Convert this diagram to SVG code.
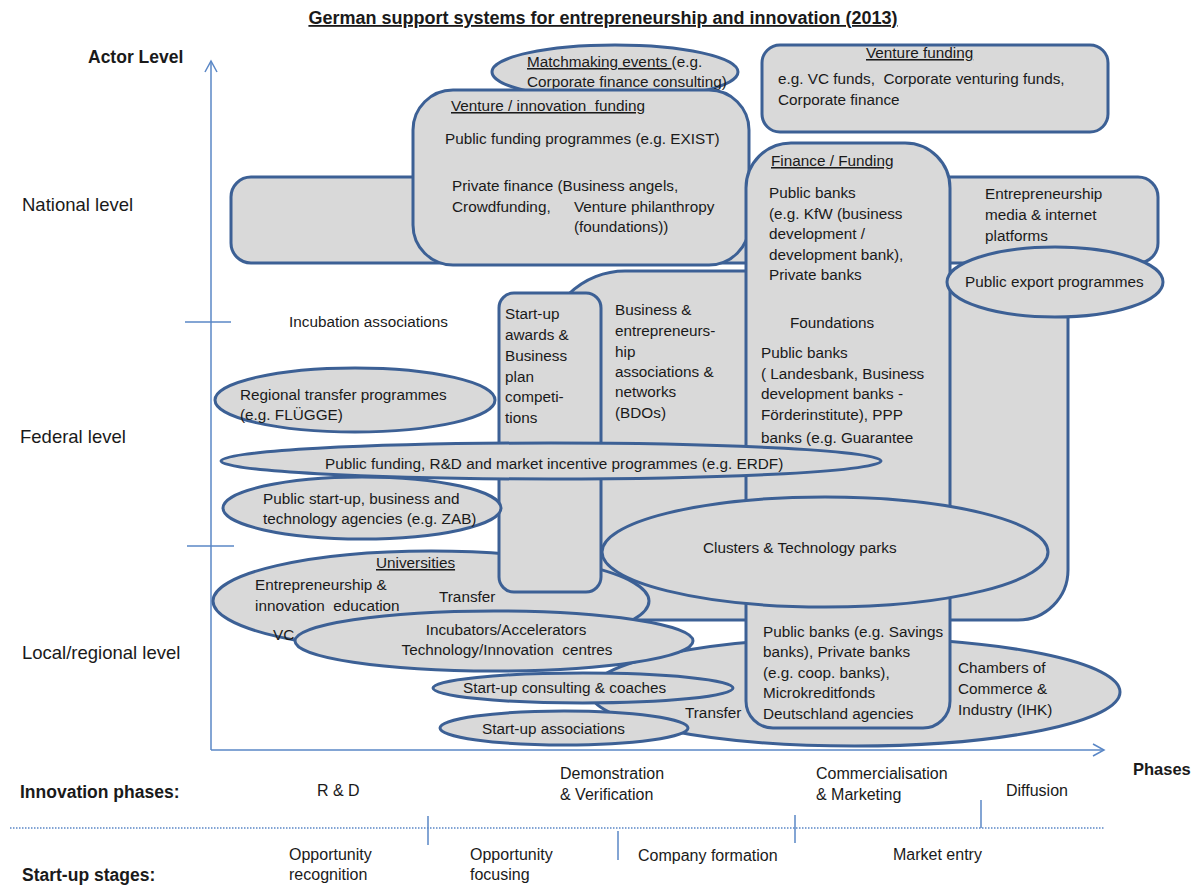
<svg xmlns="http://www.w3.org/2000/svg" width="1198" height="886" viewBox="0 0 1198 886">
  <defs>
    <style>
      .box { fill: #D9D9D9; stroke: #3C6095; stroke-width: 3; }
      .axis { fill: none; stroke: #5A87C6; stroke-width: 1.5; }
      .dots { fill: none; stroke: #5A87C6; stroke-width: 1.5; stroke-dasharray: 1.5 1.5; }
      text { font-family: "Liberation Sans", Arial, sans-serif; fill: #1A1A1A; white-space: pre; }
      .t { font-size: 15.3px; }
      .s { font-size: 16px; }
      .lvl { font-size: 18.5px; }
      .hd { font-size: 17.5px; font-weight: bold; }
      .ul { text-decoration: underline; }
    </style>
    <marker id="chev" viewBox="0 0 14 14" refX="12" refY="7" markerWidth="14" markerHeight="14" markerUnits="userSpaceOnUse" orient="auto">
      <path d="M1,1 L12,7 L1,13" fill="none" stroke="#5A87C6" stroke-width="1.5"/>
    </marker>
  </defs>

  <rect width="1198" height="886" fill="#FFFFFF"/>

  <!-- title -->
  <text x="603" y="24" text-anchor="middle" class="ul" style="font-size:18px;font-weight:bold">German support systems for entrepreneurship and innovation (2013)</text>

  <!-- axes, level ticks and phase scale -->
  <g id="axes">
    <line class="axis" x1="211" y1="750" x2="211" y2="61" marker-end="url(#chev)"/>
    <line class="axis" x1="211" y1="750" x2="1104" y2="750" marker-end="url(#chev)"/>
    <line class="axis" x1="185" y1="322" x2="231" y2="322"/>
    <line class="axis" x1="187" y1="546" x2="234" y2="546"/>
    <line class="dots" x1="10" y1="828" x2="1104" y2="828"/>
    <line class="axis" x1="428" y1="816" x2="428" y2="845"/>
    <line class="axis" x1="618" y1="831" x2="618" y2="860"/>
    <line class="axis" x1="795" y1="815" x2="795" y2="843"/>
    <line class="axis" x1="981" y1="800" x2="981" y2="828"/>
  </g>

  <!-- axis and scale labels -->
  <g id="labels">
    <text x="88" y="63" class="hd">Actor Level</text>
    <text x="22" y="211" class="lvl">National level</text>
    <text x="20" y="443" class="lvl">Federal level</text>
    <text x="22" y="659" class="lvl">Local/regional level</text>
    <text x="1133" y="775" class="hd" style="font-size:16.5px">Phases</text>
    <text x="20" y="798" class="hd">Innovation phases:</text>
    <text x="22" y="881" class="hd">Start-up stages:</text>
    <text x="317" y="796" class="s">R &amp; D</text>
    <text x="560" y="779" class="s">Demonstration</text>
    <text x="560" y="800" class="s">&amp; Verification</text>
    <text x="816" y="779" class="s">Commercialisation</text>
    <text x="816" y="800" class="s">&amp; Marketing</text>
    <text x="1006" y="796" class="s">Diffusion</text>
    <text x="289" y="860" class="s">Opportunity</text>
    <text x="289" y="880" class="s">recognition</text>
    <text x="470" y="860" class="s">Opportunity</text>
    <text x="470" y="880" class="s">focusing</text>
    <text x="638" y="861" class="s">Company formation</text>
    <text x="893" y="860" class="s">Market entry</text>
    <text x="289" y="327" class="t">Incubation associations</text>
  </g>

  <!-- national band with media platforms -->
  <g id="national-platforms">
    <rect class="box" x="231" y="177" width="927" height="86" rx="20"/>
    <text class="t" x="985" y="199">Entrepreneurship</text>
    <text class="t" x="985" y="220">media &amp; internet</text>
    <text class="t" x="985" y="241">platforms</text>
  </g>

  <g id="matchmaking">
    <ellipse class="box" cx="615" cy="72" rx="123" ry="27"/>
    <text class="t" x="527" y="67"><tspan class="ul">Matchmaking events </tspan>(e.g.</text>
    <text class="t" x="527" y="87">Corporate finance consulting)</text>
  </g>

  <g id="venture-innovation-funding">
    <rect class="box" x="413" y="90" width="336" height="175" rx="40"/>
    <text class="t ul" x="451" y="111">Venture / innovation  funding</text>
    <text class="t" x="445" y="144">Public funding programmes (e.g. EXIST)</text>
    <text class="t" x="452" y="191">Private finance (Business angels,</text>
    <text class="t" x="452" y="212">Crowdfunding,</text>
    <text class="t" x="574" y="212">Venture philanthropy</text>
    <text class="t" x="574" y="232">(foundations))</text>
  </g>

  <g id="venture-funding">
    <rect class="box" x="762" y="45" width="346" height="87" rx="18"/>
    <text class="t ul" x="866" y="58">Venture funding</text>
    <text class="t" x="778" y="84">e.g. VC funds,  Corporate venturing funds,</text>
    <text class="t" x="778" y="105">Corporate finance</text>
  </g>

  <g id="business-associations">
    <path class="box" d="M625,271 H1048 Q1068,271 1068,291 V570 A50,50 0 0 1 1018,620 H575 A30,30 0 0 1 545,590 V351 A80,80 0 0 1 625,271 Z"/>
    <text class="t" x="615" y="315">Business &amp;</text>
    <text class="t" x="615" y="336">entrepreneurs-</text>
    <text class="t" x="615" y="357">hip</text>
    <text class="t" x="615" y="377">associations &amp;</text>
    <text class="t" x="615" y="397">networks</text>
    <text class="t" x="615" y="418">(BDOs)</text>
  </g>

  <g id="chambers">
    <ellipse class="box" cx="855" cy="692" rx="265" ry="54"/>
    <text class="t" x="958" y="673">Chambers of</text>
    <text class="t" x="958" y="694">Commerce &amp;</text>
    <text class="t" x="958" y="715">Industry (IHK)</text>
    <text class="t" x="685" y="718">Transfer</text>
  </g>

  <g id="finance-funding">
    <path class="box" d="M791,143 H905 A45,45 0 0 1 950,188 V701 A27,27 0 0 1 923,728 H773 A27,27 0 0 1 746,701 V188 A45,45 0 0 1 791,143 Z"/>
    <text class="t ul" x="771" y="166">Finance / Funding</text>
    <text class="t" x="769" y="198">Public banks</text>
    <text class="t" x="769" y="219">(e.g. KfW (business</text>
    <text class="t" x="769" y="239">development /</text>
    <text class="t" x="769" y="260">development bank),</text>
    <text class="t" x="769" y="280">Private banks</text>
    <text class="t" x="790" y="328">Foundations</text>
    <text class="t" x="761" y="358">Public banks</text>
    <text class="t" x="761" y="379">( Landesbank, Business</text>
    <text class="t" x="761" y="399">development banks -</text>
    <text class="t" x="761" y="420">Förderinstitute), PPP</text>
    <text class="t" x="761" y="443">banks (e.g. Guarantee</text>
    <text class="t" x="763" y="637">Public banks (e.g. Savings</text>
    <text class="t" x="763" y="657">banks), Private banks</text>
    <text class="t" x="763" y="678">(e.g. coop. banks),</text>
    <text class="t" x="763" y="698">Microkreditfonds</text>
    <text class="t" x="763" y="719">Deutschland agencies</text>
  </g>

  <g id="export-programmes">
    <ellipse class="box" cx="1055" cy="282" rx="108" ry="35"/>
    <text class="t" x="965" y="287">Public export programmes</text>
  </g>

  <g id="universities">
    <ellipse class="box" cx="431" cy="601" rx="218" ry="50"/>
    <text class="t ul" x="376" y="568">Universities</text>
    <text class="t" x="255" y="590">Entrepreneurship &amp;</text>
    <text class="t" x="255" y="611">innovation  education</text>
    <text class="t" x="439" y="602">Transfer</text>
    <text class="t" x="273" y="640">VC</text>
  </g>

  <g id="startup-awards">
    <rect class="box" x="499" y="293" width="102" height="299" rx="15"/>
    <text class="t" x="505" y="319">Start-up</text>
    <text class="t" x="505" y="340">awards &amp;</text>
    <text class="t" x="505" y="361">Business</text>
    <text class="t" x="505" y="382">plan</text>
    <text class="t" x="505" y="402">competi-</text>
    <text class="t" x="505" y="423">tions</text>
  </g>

  <g id="regional-transfer">
    <ellipse class="box" cx="355" cy="400" rx="140" ry="32"/>
    <text class="t" x="240" y="400">Regional transfer programmes</text>
    <text class="t" x="240" y="420">(e.g. FLÜGGE)</text>
  </g>

  <g id="public-funding">
    <ellipse class="box" cx="551" cy="461" rx="330" ry="18"/>
    <text class="t" x="325" y="469">Public funding, R&amp;D and market incentive programmes (e.g. ERDF)</text>
  </g>

  <g id="public-agencies">
    <ellipse class="box" cx="362" cy="508" rx="139" ry="31"/>
    <text class="t" x="263" y="504">Public start-up, business and</text>
    <text class="t" x="263" y="524">technology agencies (e.g. ZAB)</text>
  </g>

  <g id="clusters">
    <ellipse class="box" cx="825" cy="552" rx="223" ry="55"/>
    <text class="t" x="703" y="553">Clusters &amp; Technology parks</text>
  </g>

  <g id="incubators">
    <ellipse class="box" cx="494" cy="641" rx="199" ry="30"/>
    <text class="t" x="506" y="635" text-anchor="middle">Incubators/Accelerators</text>
    <text class="t" x="507" y="655" text-anchor="middle">Technology/Innovation  centres</text>
  </g>

  <g id="startup-consulting">
    <ellipse class="box" cx="583" cy="688" rx="150" ry="15"/>
    <text class="t" x="463" y="693">Start-up consulting &amp; coaches</text>
  </g>

  <g id="startup-associations">
    <ellipse class="box" cx="564" cy="728" rx="124" ry="17"/>
    <text class="t" x="482" y="734">Start-up associations</text>
  </g>
</svg>
